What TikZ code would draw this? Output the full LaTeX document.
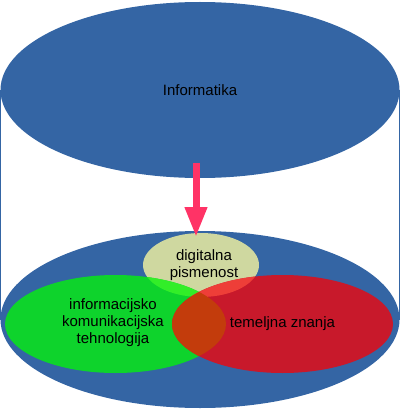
\documentclass[tikz,border=0pt]{standalone}
\usepackage{fontspec}
\setmainfont{Liberation Sans}
\usetikzlibrary{shapes.geometric,arrows.meta}
\definecolor{infoblue}{RGB}{52,101,164}
\definecolor{ictgreen}{RGB}{14,211,44}
\definecolor{basered}{RGB}{200,25,43}
\definecolor{digilight}{RGB}{207,216,160}
\definecolor{greenlight}{RGB}{50,238,40}
\definecolor{redlight}{RGB}{238,62,56}
\definecolor{redgreen}{RGB}{195,60,12}
\definecolor{arrowpink}{RGB}{255,51,102}
\tikzset{
  blob/.style={ellipse, inner sep=0pt, draw=none},
  label text/.style={font=\fontsize{15}{17}\selectfont, align=center, text=black},
  side line/.style={draw=infoblue, line width=1pt},
}
\begin{document}
\begin{tikzpicture}[x=1pt, y=-1pt]
\useasboundingbox (0,0) rectangle (400,409);

% the two discs of the cylinder
\node[blob, fill=infoblue, minimum width=399pt, minimum height=176pt] (top) at (200,90) {};
\node[blob, fill=infoblue, minimum width=399pt, minimum height=177pt] (base) at (200,319.5) {};
\draw[side line] ([xshift=0.5pt]top.west) -- ([xshift=0.5pt]base.west);
\draw[side line] ([xshift=-0.5pt]top.east) -- ([xshift=-0.5pt]base.east);

% the three areas on the base
\node[blob, fill=digilight, minimum width=116pt, minimum height=64pt] (dig) at (201,265) {};
\node[blob, fill=ictgreen, minimum width=221pt, minimum height=98pt] (ict) at (115.5,324) {};
\node[blob, fill=basered, minimum width=221pt, minimum height=98pt] (base knowledge) at (282.5,324) {};

% overlaps
\begin{scope}
  \clip (201,265) ellipse [x radius=58, y radius=32];
  \fill[greenlight] (115.5,324) ellipse [x radius=110.5, y radius=49];
  \fill[redlight] (282.5,324) ellipse [x radius=110.5, y radius=49];
\end{scope}
\begin{scope}
  \clip (115.5,324) ellipse [x radius=110.5, y radius=49];
  \fill[redgreen] (282.5,324) ellipse [x radius=110.5, y radius=49];
\end{scope}

% arrow from Informatika down to digital literacy
\coordinate (arrow start) at (196,163);
\coordinate (arrow end) at (196,237);
\draw[arrowpink, line width=7pt, -{Triangle[width=21pt, length=30pt]}] (arrow start) -- (arrow end);

% labels
\node[label text] (t top) at (top.center) {Informatika};
\node[label text] (t dig) at ([xshift=3pt]dig.center) {digitalna\\pismenost};
\node[label text] (t ict) at ([xshift=-2.5pt, yshift=1pt]ict.center) {informacijsko\\komunikacijska\\tehnologija};
\node[label text] (t base) at (base knowledge.center) {temeljna znanja};
\end{tikzpicture}
\end{document}
